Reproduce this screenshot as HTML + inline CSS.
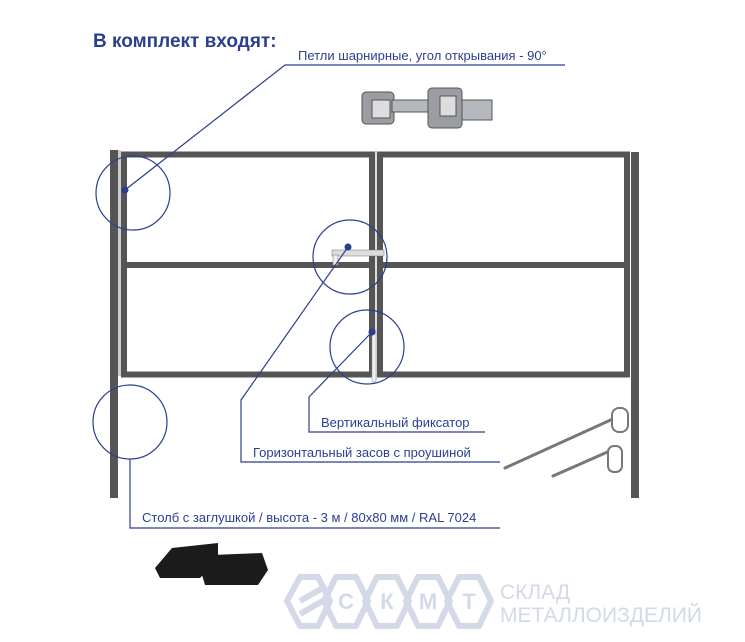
<!DOCTYPE html>
<html><head><meta charset="utf-8"><style>
body{margin:0;background:#fff;}
svg{display:block;font-family:"Liberation Sans",sans-serif;}
</style></head><body>
<svg width="745" height="642" viewBox="0 0 745 642" xmlns="http://www.w3.org/2000/svg">
<text x="93" y="47" font-size="19" font-weight="bold" fill="#2b3f8f">В комплект входят:</text>
<!-- posts -->
<rect x="110" y="150" width="8" height="348" fill="#555"/>
<rect x="631" y="152" width="8" height="346" fill="#555"/>
<!-- leaves -->
<g fill="none" stroke="#555" stroke-width="6">
<rect x="124" y="154.5" width="248" height="220"/>
<line x1="124" y1="265" x2="372" y2="265"/>
<rect x="380" y="154.5" width="247" height="220"/>
<line x1="380" y1="265" x2="627" y2="265"/>
</g>
<rect x="118" y="150" width="3" height="226" fill="#ccc"/>
<rect x="375" y="150" width="2" height="230" fill="#ddd"/>
<rect x="372" y="330" width="4" height="52" fill="#eee" stroke="#999" stroke-width="0.5"/>
<rect x="332" y="250" width="52" height="6" fill="#ddd" stroke="#777" stroke-width="0.5"/>
<rect x="333" y="255" width="5" height="10" fill="#eee" stroke="#777" stroke-width="0.5"/>
<!-- hinge image -->
<g fill="#9a9da2" stroke="#555" stroke-width="1">
<rect x="362" y="92" width="32" height="32" rx="4"/>
<rect x="372" y="100" width="18" height="18" fill="#ddd"/>
<rect x="392" y="100" width="40" height="12" fill="#b5b8bc"/>
<rect x="428" y="88" width="34" height="40" rx="4"/>
<rect x="440" y="96" width="16" height="20" fill="#ddd"/>
<rect x="462" y="100" width="30" height="20" fill="#b5b8bc"/>
</g>
<!-- circles -->
<g fill="none" stroke="#2b3f8f" stroke-width="1.2">
<circle cx="133" cy="193" r="37"/>
<circle cx="350" cy="257" r="37"/>
<circle cx="367" cy="347" r="37"/>
<circle cx="130" cy="422" r="37"/>
<polyline points="125,190 285,65 565,65"/>
<polyline points="348,247 241,400 241,462 500,462"/>
<polyline points="372,332 309,397 309,432 485,432"/>
<polyline points="130,459 130,528 500,528"/>
</g>
<g fill="#2b3f8f">
<circle cx="125" cy="190" r="3.5"/>
<circle cx="348" cy="247" r="3.5"/>
<circle cx="372" cy="332" r="3.5"/>
</g>
<g font-size="13" fill="#2b3f8f">
<text x="298" y="60">Петли шарнирные, угол открывания - 90°</text>
<text x="321" y="427">Вертикальный фиксатор</text>
<text x="253" y="457">Горизонтальный засов с проушиной</text>
<text x="142" y="522">Столб с заглушкой / высота - 3 м / 80х80 мм / RAL 7024</text>
</g>
<!-- bolts -->
<g fill="none" stroke="#777" stroke-width="3" stroke-linecap="round">
<line x1="505" y1="468" x2="615" y2="418"/>
<line x1="553" y1="476" x2="612" y2="450"/>
</g>
<g fill="#fff" stroke="#777" stroke-width="2">
<rect x="612" y="408" width="16" height="24" rx="7"/>
<rect x="608" y="446" width="14" height="26" rx="6"/>
</g>
<!-- caps -->
<g fill="#1b1b1b">
<path d="M155 568 L172 548 L218 543 L218 560 L200 578 L160 578Z"/>
<path d="M200 568 L212 555 L262 553 L268 570 L258 585 L205 585Z"/>
</g>
<!-- logo -->
<g fill="none" stroke="#d4d9e8" stroke-width="6" stroke-linejoin="round">
<path d="M300 577 L318 577 L330 601 L318 626 L300 626 L287 601Z"/>
<path d="M300 601 L326 586 M300 614 L326 599"/>
<path d="M336 577 L356 577 L368 601 L356 626 L336 626 L324 601Z"/>
<path d="M377 577 L397 577 L409 601 L397 626 L377 626 L365 601Z"/>
<path d="M418 577 L438 577 L450 601 L438 626 L418 626 L406 601Z"/>
<path d="M459 577 L479 577 L491 601 L479 626 L459 626 L447 601Z"/>
</g>
<g font-size="22" font-weight="bold" fill="#d4d9e8" text-anchor="middle">
<text x="346" y="609">С</text><text x="387" y="609">К</text><text x="428" y="609">М</text><text x="469" y="609">Т</text>
</g>
<text x="500" y="599" font-size="21" fill="#d4d9e8">СКЛАД</text>
<text x="500" y="622" font-size="21" fill="#d4d9e8">МЕТАЛЛОИЗДЕЛИЙ</text>
</svg>
</body></html>
